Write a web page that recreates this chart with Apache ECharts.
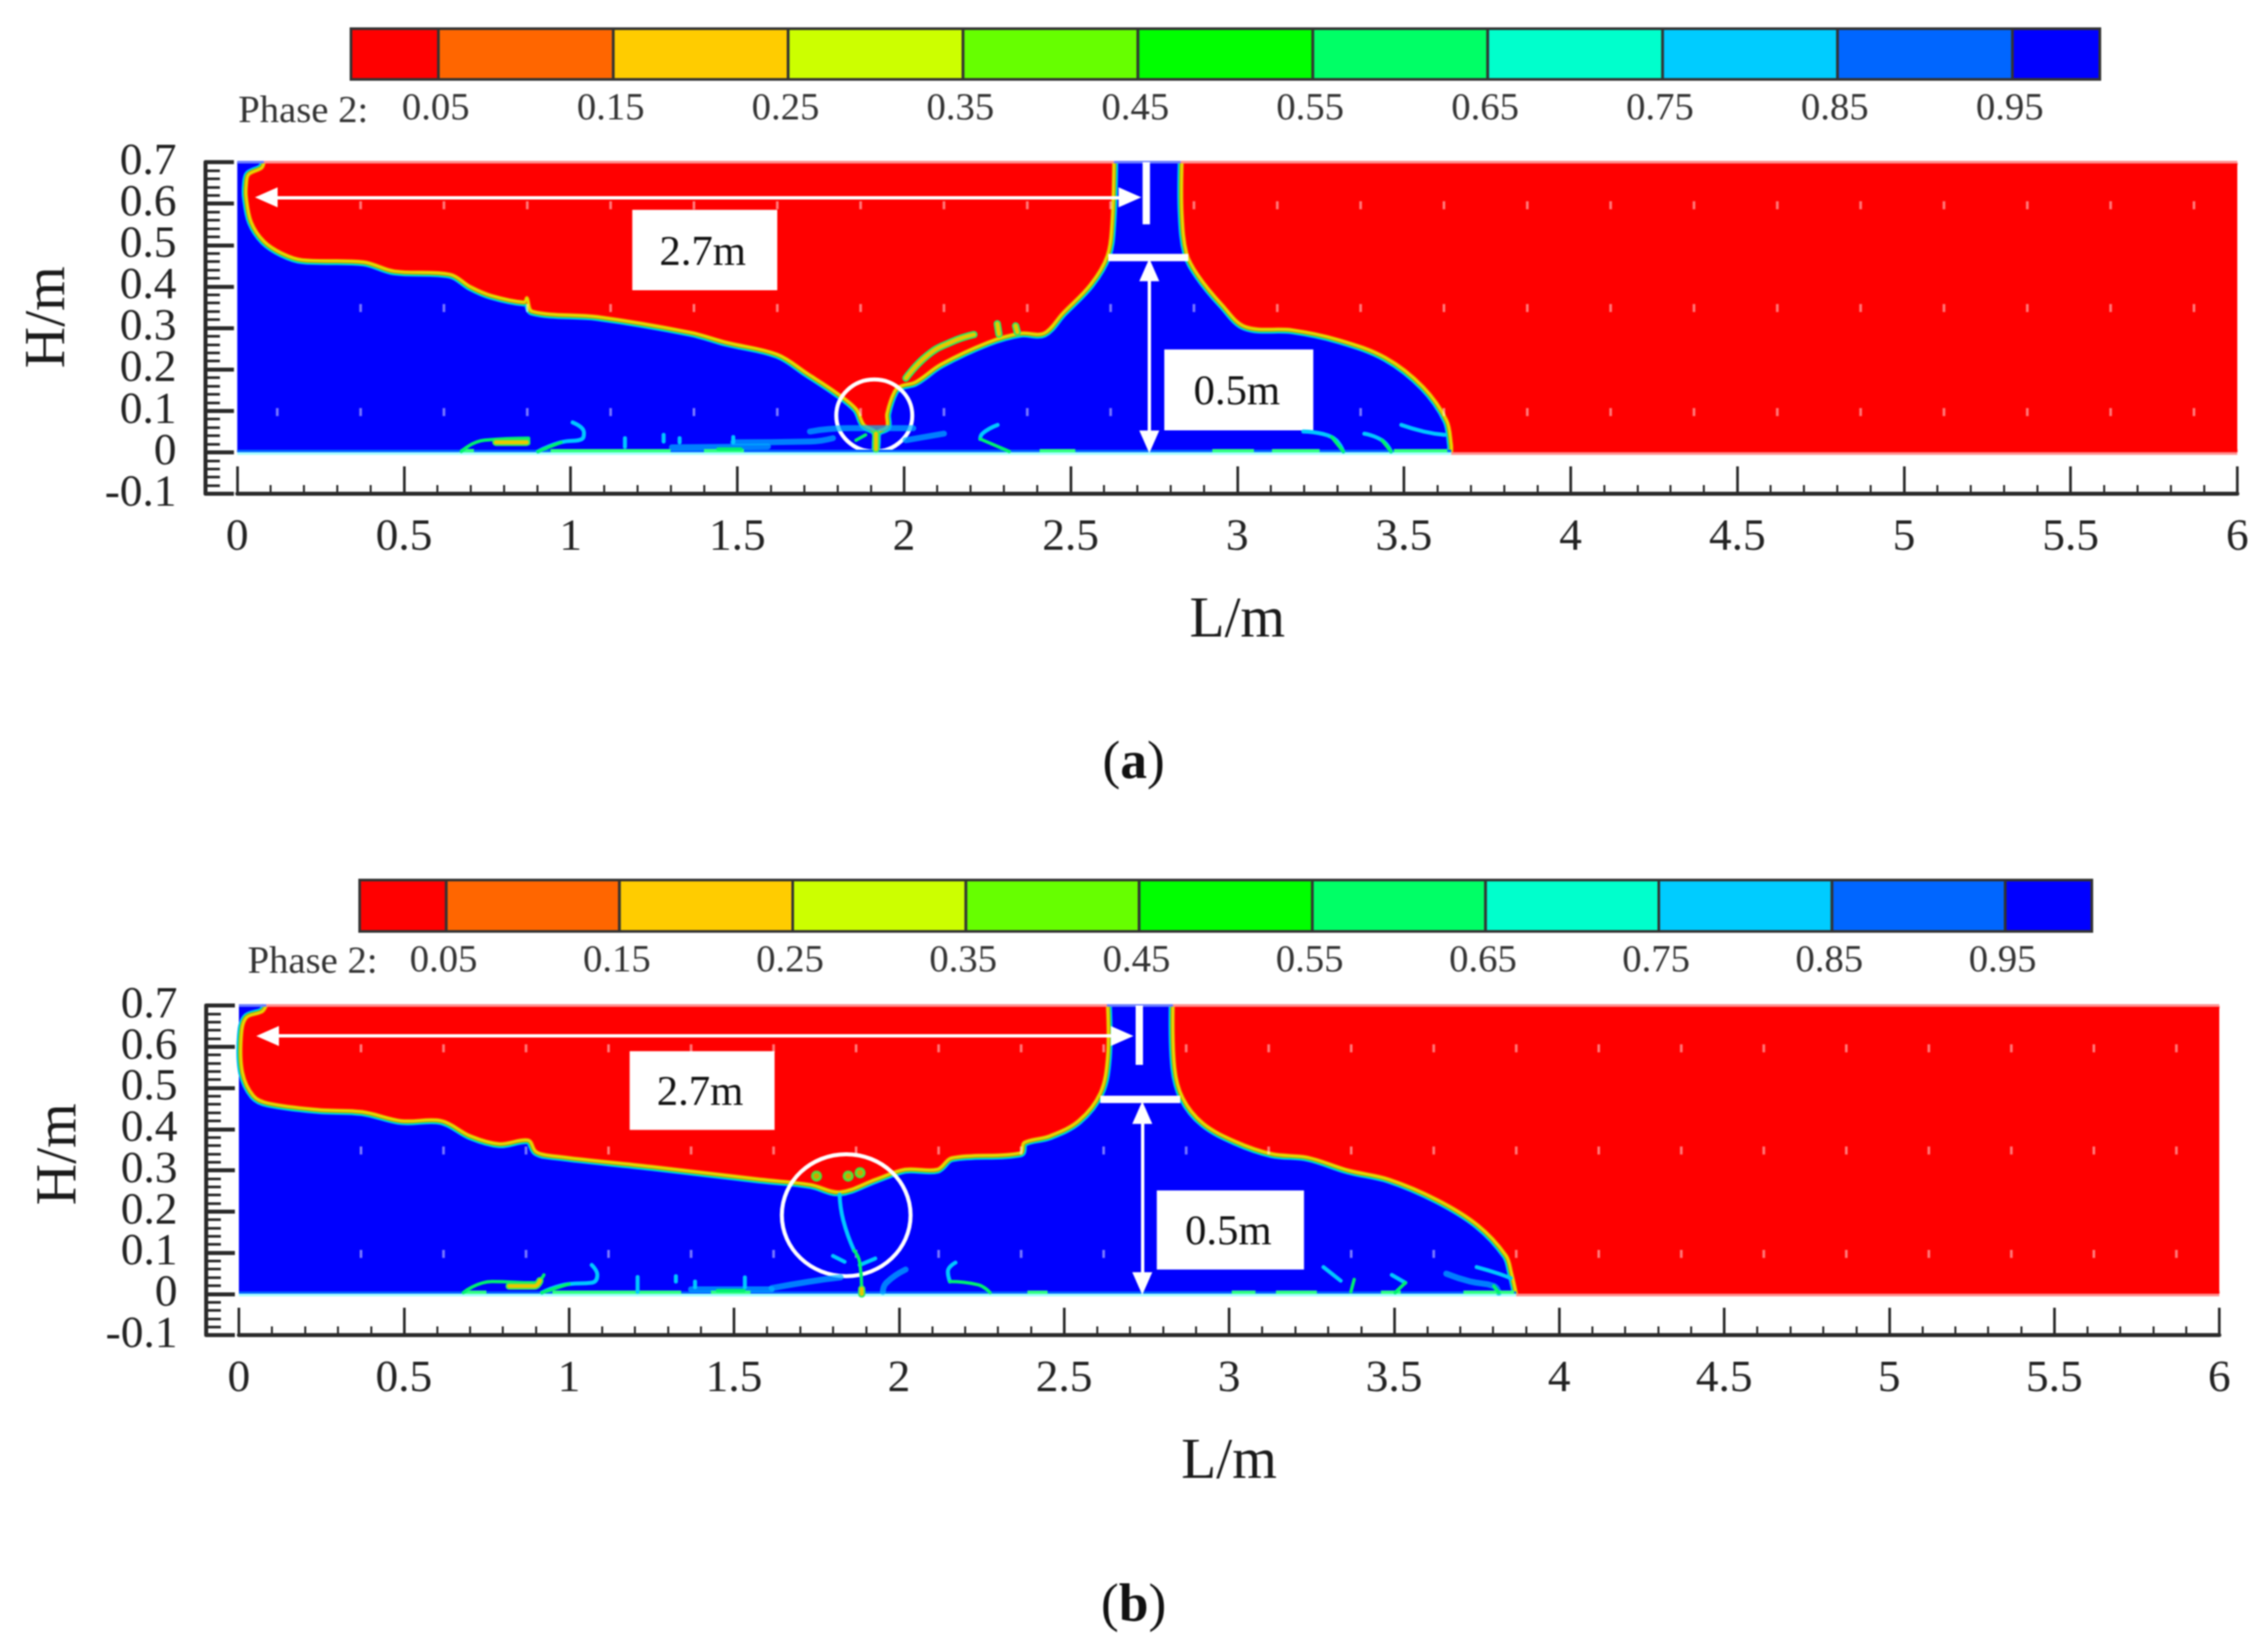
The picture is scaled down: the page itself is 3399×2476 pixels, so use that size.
<!DOCTYPE html>
<html>
<head>
<meta charset="utf-8">
<style>
  html, body { margin: 0; padding: 0; background: #fff; }
  #main { width: 3399px; height: 2476px; filter: blur(1.1px); }
</style>
<script src="https://cdn.jsdelivr.net/npm/echarts@6/dist/echarts.min.js"></script>
</head>
<body>
<div id="main"></div>
<script>
// colour bar
var cbEdges = [0, 0.05, 0.15, 0.25, 0.35, 0.45, 0.55, 0.65, 0.75, 0.85, 0.95, 1];
var cbColors = ['#ff0000', '#ff6600', '#ffcc00', '#ccff00', '#66ff00', '#00ff00', '#00ff66', '#00ffcc', '#00ccff', '#0066ff', '#0000ff'];
var cbTicks = [0.05, 0.15, 0.25, 0.35, 0.45, 0.55, 0.65, 0.75, 0.85, 0.95];

// y tick labels, split over two axes because they sit closer than their own line height
var yTicksOdd = [-0.1, 0.1, 0.3, 0.5, 0.7];
var yTicksEven = [0, 0.2, 0.4, 0.6];

// tank outline, same in both panels
var tankCorners = [[0, 0], [6, 0], [6, 0.7], [0, 0.7]];
var farCorners = [[5.99, 0], [6, 0], [6, 0.01], [6, 0.69], [6, 0.7], [5.99, 0.7]];

// small pale marks in the field
var dotL = [0.37, 0.62, 0.87, 1.12, 1.37, 1.62, 1.87, 2.12, 2.37, 2.62, 2.87, 3.12, 3.37, 3.62, 3.87, 4.12, 4.37, 4.62, 4.87, 5.12, 5.37, 5.62, 5.87];
var dotH = [0.596, 0.348, 0.097];

// panel (a): water surface
var airLeftA = [[0.08, 0.7], [0.073, 0.686], [0.034, 0.67], [0.027, 0.646], [0.027, 0.614], [0.042, 0.555], [0.08, 0.509], [0.134, 0.48], [0.195, 0.464], [0.379, 0.459], [0.471, 0.437], [0.639, 0.429], [0.7, 0.399], [0.762, 0.378], [0.861, 0.362], [0.869, 0.372], [0.885, 0.34], [1.08, 0.327], [1.36, 0.289], [1.467, 0.265], [1.62, 0.236], [1.71, 0.19], [1.8, 0.142], [1.857, 0.104], [1.88, 0.066], [1.915, 0.048], [1.916, 0.007], [1.921, 0.048], [1.949, 0.061], [1.949, 0.093], [1.972, 0.147], [1.992, 0.16], [2.034, 0.169], [2.111, 0.212], [2.252, 0.265], [2.35, 0.287], [2.42, 0.287], [2.476, 0.335], [2.56, 0.405], [2.61, 0.474], [2.624, 0.55], [2.63, 0.7]];
var airRightA = [[2.834, 0.7], [2.834, 0.576], [2.848, 0.48], [2.883, 0.426], [2.954, 0.356], [3.024, 0.303], [3.164, 0.295], [3.305, 0.271], [3.445, 0.228], [3.557, 0.158], [3.628, 0.077], [3.642, 0.018], [3.642, 0]];
var cyanA = [
  [[0.902, 0.002], [0.971, 0.024], [1.034, 0.032], [1.04, 0.048], [1.006, 0.072]],
  [[1.163, 0.013], [1.163, 0.034]], [[1.279, 0.026], [1.279, 0.042]], [[1.327, 0.024], [1.327, 0.034]], [[1.488, 0.024], [1.488, 0.037]],
  [[2.281, 0.066], [2.235, 0.045], [2.229, 0.032]],
  [[3.198, 0.05], [3.283, 0.037], [3.318, 0.002]],
  [[3.381, 0.045], [3.434, 0.029], [3.461, 0.002]],
  [[3.492, 0.066], [3.56, 0.05], [3.622, 0.042]]
];
var washA = [
  [[1.304, 0.012], [1.592, 0.014]],
  [[1.488, 0.024], [1.718, 0.026], [1.787, 0.034]],
  [[1.718, 0.05], [1.833, 0.058], [2.028, 0.058]],
  [[2.005, 0.029], [2.12, 0.045]]
];
var greenA = [
  [[0.672, 0.002], [0.741, 0.029], [0.874, 0.034], [0.874, 0.021]],
  [[0.902, 0.002], [0.971, 0.024]],
  [[1.442, 0.008], [1.511, 0.008]],
  [[1.856, 0.029], [1.885, 0.042]],
  [[2.229, 0.032], [2.316, 0.002]],
  [[3.283, 0.037], [3.318, 0.002]],
  [[3.434, 0.029], [3.461, 0.002]]
];
var yellowA = [
  [[0.776, 0.024], [0.868, 0.024]],
  [[1.916, 0.045], [1.916, 0.008]],
  [[2.006, 0.179], [2.069, 0.233], [2.139, 0.265], [2.21, 0.284]],
  [[2.28, 0.31], [2.285, 0.285]],
  [[2.335, 0.305], [2.34, 0.29]]
];
var floorGreenA = [
  [[0.67, 0.004], [0.71, 0.004]], [[0.94, 0.004], [1.3, 0.004]], [[1.4, 0.004], [1.52, 0.004]],
  [[2.407, 0.004], [2.514, 0.004]], [[2.925, 0.004], [3.05, 0.004]], [[3.104, 0.004], [3.247, 0.004]], [[3.47, 0.004], [3.63, 0.004]]
];
var floorEndA = 3.642;
var arrowsA = [[0.087, 0.615, 2.678, 0.615], [2.736, 0.44, 2.736, 0.025]];
var barsA = [[[2.727, 0.7], [2.727, 0.55]], [[2.613, 0.47], [2.853, 0.47]]];
var boxesA = [[1.185, 0.585, 1.62, 0.391, '2.7m'], [2.781, 0.248, 3.228, 0.053, '0.5m']];
var ringA = [1.911, 0.0886, 0.114, 0.087];
var dotsExtraA = [[0.12, 0.097]];

// panel (b)
var airLeftB = [[0.083, 0.7], [0.07, 0.685], [0.022, 0.67], [0.007, 0.623], [0.011, 0.537], [0.044, 0.481], [0.088, 0.463], [0.241, 0.447], [0.373, 0.442], [0.493, 0.42], [0.614, 0.42], [0.702, 0.383], [0.789, 0.364], [0.877, 0.373], [0.899, 0.346], [0.932, 0.337], [1.25, 0.309], [1.579, 0.278], [1.732, 0.265], [1.82, 0.247], [1.93, 0.278], [2.018, 0.302], [2.116, 0.302], [2.16, 0.33], [2.368, 0.342], [2.379, 0.367], [2.456, 0.383], [2.544, 0.42], [2.61, 0.488], [2.632, 0.574], [2.632, 0.7]];
var airRightB = [[2.83, 0.7], [2.835, 0.549], [2.86, 0.475], [2.921, 0.414], [3.019, 0.37], [3.129, 0.34], [3.239, 0.331], [3.361, 0.3], [3.484, 0.278], [3.631, 0.228], [3.753, 0.167], [3.839, 0.093], [3.856, 0.049], [3.87, 0]];
var cyanB = [
  [[1.82, 0.241], [1.831, 0.179], [1.864, 0.105]],
  [[0.918, 0.003], [1.0, 0.024], [1.069, 0.027], [1.086, 0.046], [1.069, 0.07]],
  [[1.208, 0.005], [1.208, 0.041]], [[1.324, 0.03], [1.324, 0.043]], [[1.382, 0.016], [1.382, 0.03]], [[1.533, 0.016], [1.533, 0.04]],
  [[1.8, 0.092], [1.835, 0.078]],
  [[1.928, 0.086], [1.881, 0.07]],
  [[2.171, 0.076], [2.148, 0.054], [2.154, 0.03]],
  [[3.286, 0.065], [3.338, 0.032]],
  [[3.493, 0.046], [3.534, 0.027]],
  [[3.75, 0.065], [3.817, 0.049], [3.853, 0.038]]
];
var washB = [
  [[1.37, 0.011], [1.614, 0.011]],
  [[1.614, 0.014], [1.73, 0.03], [1.823, 0.04]],
  [[1.951, 0.005], [1.962, 0.027], [2.02, 0.059]],
  [[3.658, 0.049], [3.73, 0.03], [3.802, 0.019], [3.817, 0.003]]
];
var greenB = [
  [[0.68, 0.003], [0.767, 0.03], [0.895, 0.027], [0.924, 0.046]],
  [[0.918, 0.003], [1.0, 0.024]],
  [[1.864, 0.105], [1.881, 0.076], [1.887, 0.01]],
  [[1.45, 0.008], [1.53, 0.008]],
  [[2.154, 0.03], [2.24, 0.022], [2.276, 0.003]],
  [[3.379, 0.035], [3.369, 0.005]],
  [[3.534, 0.027], [3.503, 0.003]],
  [[3.802, 0.019], [3.817, 0.003]]
];
var yellowB = [
  [[0.819, 0.019], [0.895, 0.019], [0.912, 0.032]],
  [[1.887, 0.012], [1.887, 0]]
];
var floorGreenB = [
  [[0.68, 0.004], [0.75, 0.004]], [[0.95, 0.004], [1.34, 0.004]], [[1.43, 0.004], [1.55, 0.004]],
  [[2.389, 0.004], [2.45, 0.004]], [[3.008, 0.004], [3.08, 0.004]], [[3.142, 0.004], [3.266, 0.004]], [[3.46, 0.004], [3.52, 0.004]], [[3.71, 0.004], [3.864, 0.004]]
];
var bubblesB = [[1.75, 0.286], [1.846, 0.286], [1.882, 0.294]];
var floorEndB = 3.87;
var arrowsB = [[0.087, 0.626, 2.676, 0.626], [2.737, 0.44, 2.737, 0.025]];
var barsB = [[[2.728, 0.7], [2.728, 0.556]], [[2.61, 0.472], [2.852, 0.472]]];
var boxesB = [[1.184, 0.589, 1.623, 0.398, '2.7m'], [2.781, 0.251, 3.227, 0.059, '0.5m']];
var ringB = [1.84, 0.191, 0.195, 0.148];

var serif = '"Liberation Serif", "Times New Roman", serif';
var inkColor = '#2a2a2a';
var curve = 0.35;

function polygonSeries(points, color, g, smooth) {
  return {
    type: 'custom', xAxisIndex: g, yAxisIndex: g, silent: true, clip: false,
    data: points,
    renderItem: function (params, api) {
      if (params.dataIndex !== 0) return;
      return {
        type: 'polygon',
        shape: { points: points.map(function (p) { return api.coord(p); }), smooth: smooth || 0 },
        style: { fill: color }
      };
    }
  };
}

// water surface band, smoothed the same way as the air fill
function surfaceSeries(points, color, width, g) {
  return {
    type: 'custom', xAxisIndex: g, yAxisIndex: g, silent: true, clip: false,
    data: points,
    renderItem: function (params, api) {
      if (params.dataIndex !== 0) return;
      return {
        type: 'polyline',
        shape: { points: points.map(function (p) { return api.coord(p); }), smooth: curve },
        style: { fill: 'none', stroke: color, lineWidth: width, lineJoin: 'round' }
      };
    }
  };
}

function lineSeries(points, color, width, g, smooth, opacity) {
  return {
    type: 'line', xAxisIndex: g, yAxisIndex: g, silent: true,
    showSymbol: false, symbol: 'none', clip: false, smooth: smooth || false,
    lineStyle: { color: color, width: width, cap: smooth ? 'round' : 'butt', join: 'round', opacity: opacity === undefined ? 1 : opacity },
    data: points
  };
}

function arrowSeries(a, g) {
  return {
    type: 'line', xAxisIndex: g, yAxisIndex: g, silent: true, data: [],
    markLine: {
      silent: true, animation: false,
      symbol: ['triangle', 'triangle'], symbolSize: [30, 34],
      label: { show: false },
      lineStyle: { type: 'solid', color: '#fff', width: 5 },
      data: a.map(function (r) {
        return [{ coord: [r[0], r[1]] }, { coord: [r[2], r[3]] }];
      })
    }
  };
}

function boxSeries(rows, g) {
  return {
    type: 'custom', xAxisIndex: g, yAxisIndex: g, silent: true, clip: false,
    encode: { x: 0, y: 1 },
    data: rows,
    renderItem: function (params, api) {
      var p0 = api.coord([api.value(0), api.value(1)]);
      var p1 = api.coord([api.value(2), api.value(3)]);
      return {
        type: 'group',
        children: [{
          type: 'rect',
          shape: { x: p0[0], y: p0[1], width: p1[0] - p0[0], height: p1[1] - p0[1] },
          style: { fill: '#fff' }
        }, {
          type: 'text',
          style: {
            x: (p0[0] + p1[0]) / 2 - 3, y: (p0[1] + p1[1]) / 2 + 5,
            text: rows[params.dataIndex][4],
            fill: '#111', font: '64px ' + serif,
            align: 'center', verticalAlign: 'middle'
          }
        }]
      };
    }
  };
}

function ringSeries(r, g) {
  return {
    type: 'custom', xAxisIndex: g, yAxisIndex: g, silent: true, clip: false,
    data: [r],
    renderItem: function (params, api) {
      var c = api.coord([api.value(0), api.value(1)]);
      var s = api.size([api.value(2), api.value(3)]);
      return {
        type: 'ellipse',
        shape: { cx: c[0], cy: c[1], rx: s[0], ry: s[1] },
        style: { fill: 'none', stroke: '#fff', lineWidth: 6 }
      };
    }
  };
}

function barSeriesCb(g) {
  return {
    type: 'custom', xAxisIndex: g, yAxisIndex: g, silent: true,
    data: cbColors.map(function (c, i) { return [cbEdges[i], 0, cbEdges[i + 1], 1]; }),
    encode: { x: 0, y: 1 },
    renderItem: function (params, api) {
      var p0 = api.coord([api.value(0), api.value(3)]);
      var p1 = api.coord([api.value(2), api.value(1)]);
      return {
        type: 'rect',
        shape: { x: p0[0], y: p0[1], width: p1[0] - p0[0], height: p1[1] - p0[1] },
        style: { fill: cbColors[params.dataIndex], stroke: '#333', lineWidth: 4 }
      };
    }
  };
}

function dotSeries(extra, g) {
  var rows = extra.slice();
  dotH.forEach(function (h) {
    dotL.forEach(function (l) { rows.push([l, h]); });
  });
  return {
    type: 'scatter', xAxisIndex: g, yAxisIndex: g, silent: true, clip: false,
    symbol: 'rect', symbolSize: [4, 12],
    itemStyle: { color: 'rgba(255,255,255,0.6)' },
    data: rows
  };
}

function panelSeries(g, d) {
  var s = [];
  var left = d.airLeft, right = d.airRight;
  var leftFill = left.concat([[left[left.length - 1][0] - 0.01, 0.7], [left[0][0] + 0.01, 0.7]]);
  var rightFill = right.concat([[d.floorEnd + 0.01, 0]], farCorners, [[right[0][0] + 0.01, 0.7]]);

  s.push(polygonSeries(tankCorners, '#0000ff', g));
  s.push(surfaceSeries(left, '#00b0ff', 13, g), surfaceSeries(right, '#00b0ff', 13, g));
  s.push(surfaceSeries(left, '#00ff66', 9, g), surfaceSeries(right, '#00ff66', 9, g));
  s.push(polygonSeries(leftFill, '#ff0000', g, curve));
  s.push(polygonSeries(rightFill, '#ff0000', g, curve));
  s.push(surfaceSeries(left, '#ff8000', 6, g), surfaceSeries(right, '#ff8000', 6, g));
  s.push(surfaceSeries(left, '#d8e800', 3, g), surfaceSeries(right, '#d8e800', 3, g));

  // rims along tank top and floor
  s.push(lineSeries([[left[0][0], 0.7], [2.63, 0.7]], '#ff9090', 4, g));
  s.push(lineSeries([[2.83, 0.7], [6, 0.7]], '#ff9090', 4, g));
  s.push(lineSeries([[0, 0.7], [left[0][0], 0.7]], '#6a7cff', 4, g));
  s.push(lineSeries([[2.63, 0.7], [2.83, 0.7]], '#6a7cff', 4, g));
  s.push(lineSeries([[0, 0.003], [d.floorEnd, 0.003]], '#0060ff', 4, g));
  s.push(lineSeries([[0, -0.003], [d.floorEnd, -0.003]], '#a8ffff', 4, g));
  s.push(lineSeries([[d.floorEnd, -0.003], [6, -0.003]], '#ff9090', 4, g));

  d.wash.forEach(function (p) { s.push(lineSeries(p, '#00b4ff', 9, g, true, 0.7)); });
  d.floor.forEach(function (p) { s.push(lineSeries(p, '#30ff80', 5, g)); });
  d.cyan.forEach(function (p) { s.push(lineSeries(p, '#00c8ff', 6, g, true)); });
  d.green.forEach(function (p) { s.push(lineSeries(p, '#00f070', 5, g, true)); });
  d.yellow.forEach(function (p) {
    s.push(lineSeries(p, '#30e860', 11, g, true));
    s.push(lineSeries(p, '#e8c800', 6, g, true));
  });

  s.push(dotSeries(d.dotsExtra, g));
  s.push(boxSeries(d.boxes, g));
  d.bars.forEach(function (p) { s.push(lineSeries(p, '#fff', 11, g)); });
  s.push(arrowSeries(d.arrows, g));
  s.push(ringSeries(d.ring, g));
  return s;
}

function plotAxes(g, offset, nameGapY, namePad) {
  var labelStyle = { fontFamily: serif, fontSize: 68, color: '#222', margin: 43 };
  return {
    x: {
      type: 'value', gridIndex: g, min: 0, max: 6, interval: 0.5,
      name: 'L/m', nameLocation: 'middle', nameGap: 148,
      nameTextStyle: { fontFamily: serif, fontSize: 86, color: '#1a1a1a' },
      axisLine: { onZero: false, lineStyle: { color: inkColor, width: 6 } },
      axisTick: { inside: true, length: 41, lineStyle: { color: inkColor, width: 4 } },
      minorTick: { show: true, splitNumber: 5, length: 13, lineStyle: { color: inkColor, width: 3 } },
      axisLabel: { fontFamily: serif, fontSize: 68, color: '#222', margin: 32, showMinLabel: true, showMaxLabel: true },
      splitLine: { show: false }
    },
    y: {
      type: 'value', gridIndex: g, position: 'left', min: -0.1, max: 0.7, interval: 0.1, offset: offset,
      name: 'H/m', nameLocation: 'middle', nameGap: nameGapY,
      nameTextStyle: { fontFamily: serif, fontSize: 86, color: '#1a1a1a', padding: namePad },
      axisLine: { onZero: false, lineStyle: { color: inkColor, width: 6 } },
      axisTick: { inside: true, length: 43, lineStyle: { color: inkColor, width: 6 } },
      minorTick: { show: true, splitNumber: 5, length: 22, lineStyle: { color: inkColor, width: 4 } },
      axisLabel: echarts.util.extend({ customValues: yTicksOdd }, labelStyle),
      splitLine: { show: false }
    },
    yEven: {
      type: 'value', gridIndex: g, position: 'left', min: -0.1, max: 0.7, interval: 0.1, offset: offset,
      axisLine: { show: false }, axisTick: { show: false }, splitLine: { show: false },
      axisLabel: echarts.util.extend({ customValues: yTicksEven }, labelStyle)
    }
  };
}

function cbAxes(g) {
  return {
    x: {
      type: 'value', gridIndex: g, min: 0, max: 1,
      axisLine: { show: false }, axisTick: { show: false }, splitLine: { show: false },
      axisLabel: { customValues: cbTicks, fontFamily: serif, fontSize: 58, color: '#333', margin: 16, padding: [0, 8, 0, 0] }
    },
    y: { type: 'value', gridIndex: g, min: 0, max: 1, show: false, splitLine: { show: false } }
  };
}

var axA = plotAxes(1, 48, 191, [0, 0, 0, 32]);
var axB = plotAxes(3, 49, 176, [0, 0, 0, 48]);
var cbA = cbAxes(0);
var cbB = cbAxes(2);

var panelA = { airLeft: airLeftA, airRight: airRightA, cyan: cyanA, wash: washA, green: greenA, yellow: yellowA, floor: floorGreenA, floorEnd: floorEndA, arrows: arrowsA, bars: barsA, boxes: boxesA, ring: ringA, dotsExtra: dotsExtraA };
var panelB = { airLeft: airLeftB, airRight: airRightB, cyan: cyanB, wash: washB, green: greenB, yellow: yellowB, floor: floorGreenB, floorEnd: floorEndB, arrows: arrowsB, bars: barsB, boxes: boxesB, ring: ringB, dotsExtra: [] };

var bubbleSeries = {
  type: 'scatter', xAxisIndex: 3, yAxisIndex: 3, silent: true,
  symbolSize: 13,
  itemStyle: { color: '#c8c800', borderColor: '#30ff40', borderWidth: 4 },
  data: bubblesB
};

function caption(letter, centerY) {
  return {
    text: '{n|(}{b|' + letter + '}{n|)}', left: 1694, top: centerY, textAlign: 'center', textVerticalAlign: 'middle',
    textStyle: {
      rich: {
        n: { fontFamily: serif, fontSize: 80, fontWeight: 'normal', color: '#111' },
        b: { fontFamily: serif, fontSize: 80, fontWeight: 'bold', color: '#111' }
      }
    }
  };
}

function phaseLabel(left, centerY) {
  return {
    text: 'Phase 2:', left: left, top: centerY, textVerticalAlign: 'middle',
    textStyle: { fontFamily: serif, fontSize: 58, fontWeight: 'normal', color: '#333' }
  };
}

var myChart = echarts.init(document.getElementById('main'), null, { renderer: 'canvas' });
myChart.setOption({
  backgroundColor: '#fff',
  animation: false,
  title: [phaseLabel(352, 163), phaseLabel(366, 1438), caption('a', 1140), caption('b', 2403)],
  grid: [
    { left: 526, top: 43, width: 2621, height: 76 },
    { left: 355.6, top: 243, width: 2997.4, height: 497 },
    { left: 539, top: 1319, width: 2596, height: 77 },
    { left: 358, top: 1507, width: 2968, height: 494 }
  ],
  xAxis: [cbA.x, axA.x, cbB.x, axB.x],
  yAxis: [cbA.y, axA.y, cbB.y, axB.y, axA.yEven, axB.yEven],
  series: [barSeriesCb(0), barSeriesCb(2)]
    .concat(panelSeries(1, panelA))
    .concat(panelSeries(3, panelB))
    .concat([bubbleSeries])
});
</script>
</body>
</html>
